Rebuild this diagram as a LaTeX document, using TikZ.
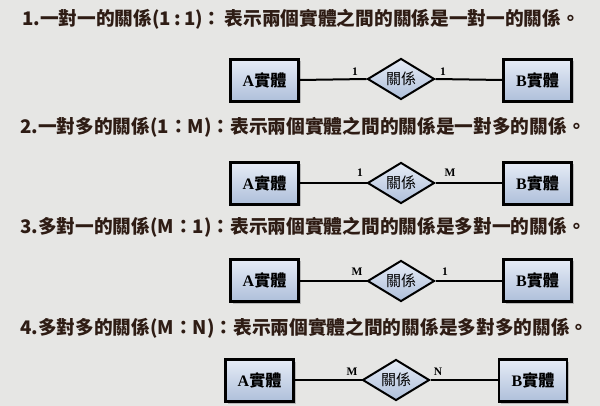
\documentclass[tikz,border=0pt]{standalone}
\usepackage{fontspec}
\setmainfont{Liberation Serif}
\newfontfamily\cjk{Noto Sans CJK TC}
\usetikzlibrary{shapes.geometric,shadows}
\definecolor{bg}{HTML}{E6E6E4}
\definecolor{ttl}{HTML}{2E1C14}
\definecolor{boxtop}{HTML}{E6ECF6}
\definecolor{boxbot}{HTML}{AEBFDA}
\tikzset{
  ttlnode/.style={anchor=west,inner sep=0pt,text=ttl,font=\cjk\bfseries\fontsize{18.7}{21}\selectfont},
  entity/.style={draw=black,line width=2.2pt,top color=boxtop,bottom color=boxbot,
    minimum width=68pt,minimum height=42pt,inner sep=0pt,
    drop shadow={shadow xshift=2pt,shadow yshift=-2pt,fill=black!40,opacity=.6},
    font=\bfseries\fontsize{16}{17}\selectfont},
  rel/.style={diamond,draw=black,line width=2pt,top color=boxtop,bottom color=boxbot,
    minimum width=67pt,minimum height=41pt,inner sep=0pt,aspect=1.6,
    font=\cjk\fontsize{15}{16}\selectfont},
  conn/.style={line width=2pt,draw=black},
  card/.style={font=\bfseries\fontsize{11.5}{12}\selectfont,inner sep=0pt},
}
\newcommand{\ent}[1]{#1{\cjk 實體}}
\begin{document}
\begin{tikzpicture}[x=1pt,y=-1pt]
\fill[bg] (0,0) rectangle (600,406);
\useasboundingbox (0,0) rectangle (600,406);
% titles
\node[ttlnode] (t1) at (22,19) {1.一對一的關係(1\,:\,1)：\,表示兩個實體之間的關係是一對一的關係。};
\node[ttlnode] (t2) at (20,127) {2.一對多的關係(1：M)：表示兩個實體之間的關係是一對多的關係。};
\node[ttlnode] (t3) at (20,227) {3.多對一的關係(M：1)：表示兩個實體之間的關係是多對一的關係。};
\node[ttlnode] (t4) at (20,328) {4.多對多的關係(M：N)：表示兩個實體之間的關係是多對多的關係。};
% row 1
\node[entity] (a1) at (264.5,80.5) {\ent{A}};
\node[rel] (r1) at (401,79) {關係};
\node[entity] (b1) at (537.5,80.5) {\ent{B}};
\draw[conn] (a1.east |- 0,80) -- (r1.west);
\draw[conn] (r1.east) -- (b1.west |- 0,80);
\node[card] (c1a) at (355,72) {1};
\node[card] (c1b) at (443,72) {1};
% row 2
\node[entity] (a2) at (264.5,183.5) {\ent{A}};
\node[rel] (r2) at (401,183) {關係};
\node[entity] (b2) at (537.5,183.5) {\ent{B}};
\draw[conn] (a2.east |- 0,183) -- (r2.west);
\draw[conn] (r2.east) -- (b2.west |- 0,183);
\node[card] (c2a) at (360,173) {1};
\node[card] (c2b) at (450,173) {M};
% row 3
\node[entity] (a3) at (264.5,280.5) {\ent{A}};
\node[rel] (r3) at (401,281) {關係};
\node[entity] (b3) at (537.5,280.5) {\ent{B}};
\draw[conn] (a3.east |- 0,281) -- (r3.west);
\draw[conn] (r3.east) -- (b3.west |- 0,281);
\node[card] (c3a) at (357,272) {M};
\node[card] (c3b) at (445,272) {1};
% row 4
\node[entity] (a4) at (259.5,380.5) {\ent{A}};
\node[rel] (r4) at (396,380) {關係};
\node[entity] (b4) at (533,380.5) {\ent{B}};
\draw[conn] (a4.east |- 0,380) -- (r4.west);
\draw[conn] (r4.east) -- (b4.west |- 0,380);
\node[card] (c4a) at (352,372) {M};
\node[card] (c4b) at (438,372) {N};
\end{tikzpicture}
\end{document}
